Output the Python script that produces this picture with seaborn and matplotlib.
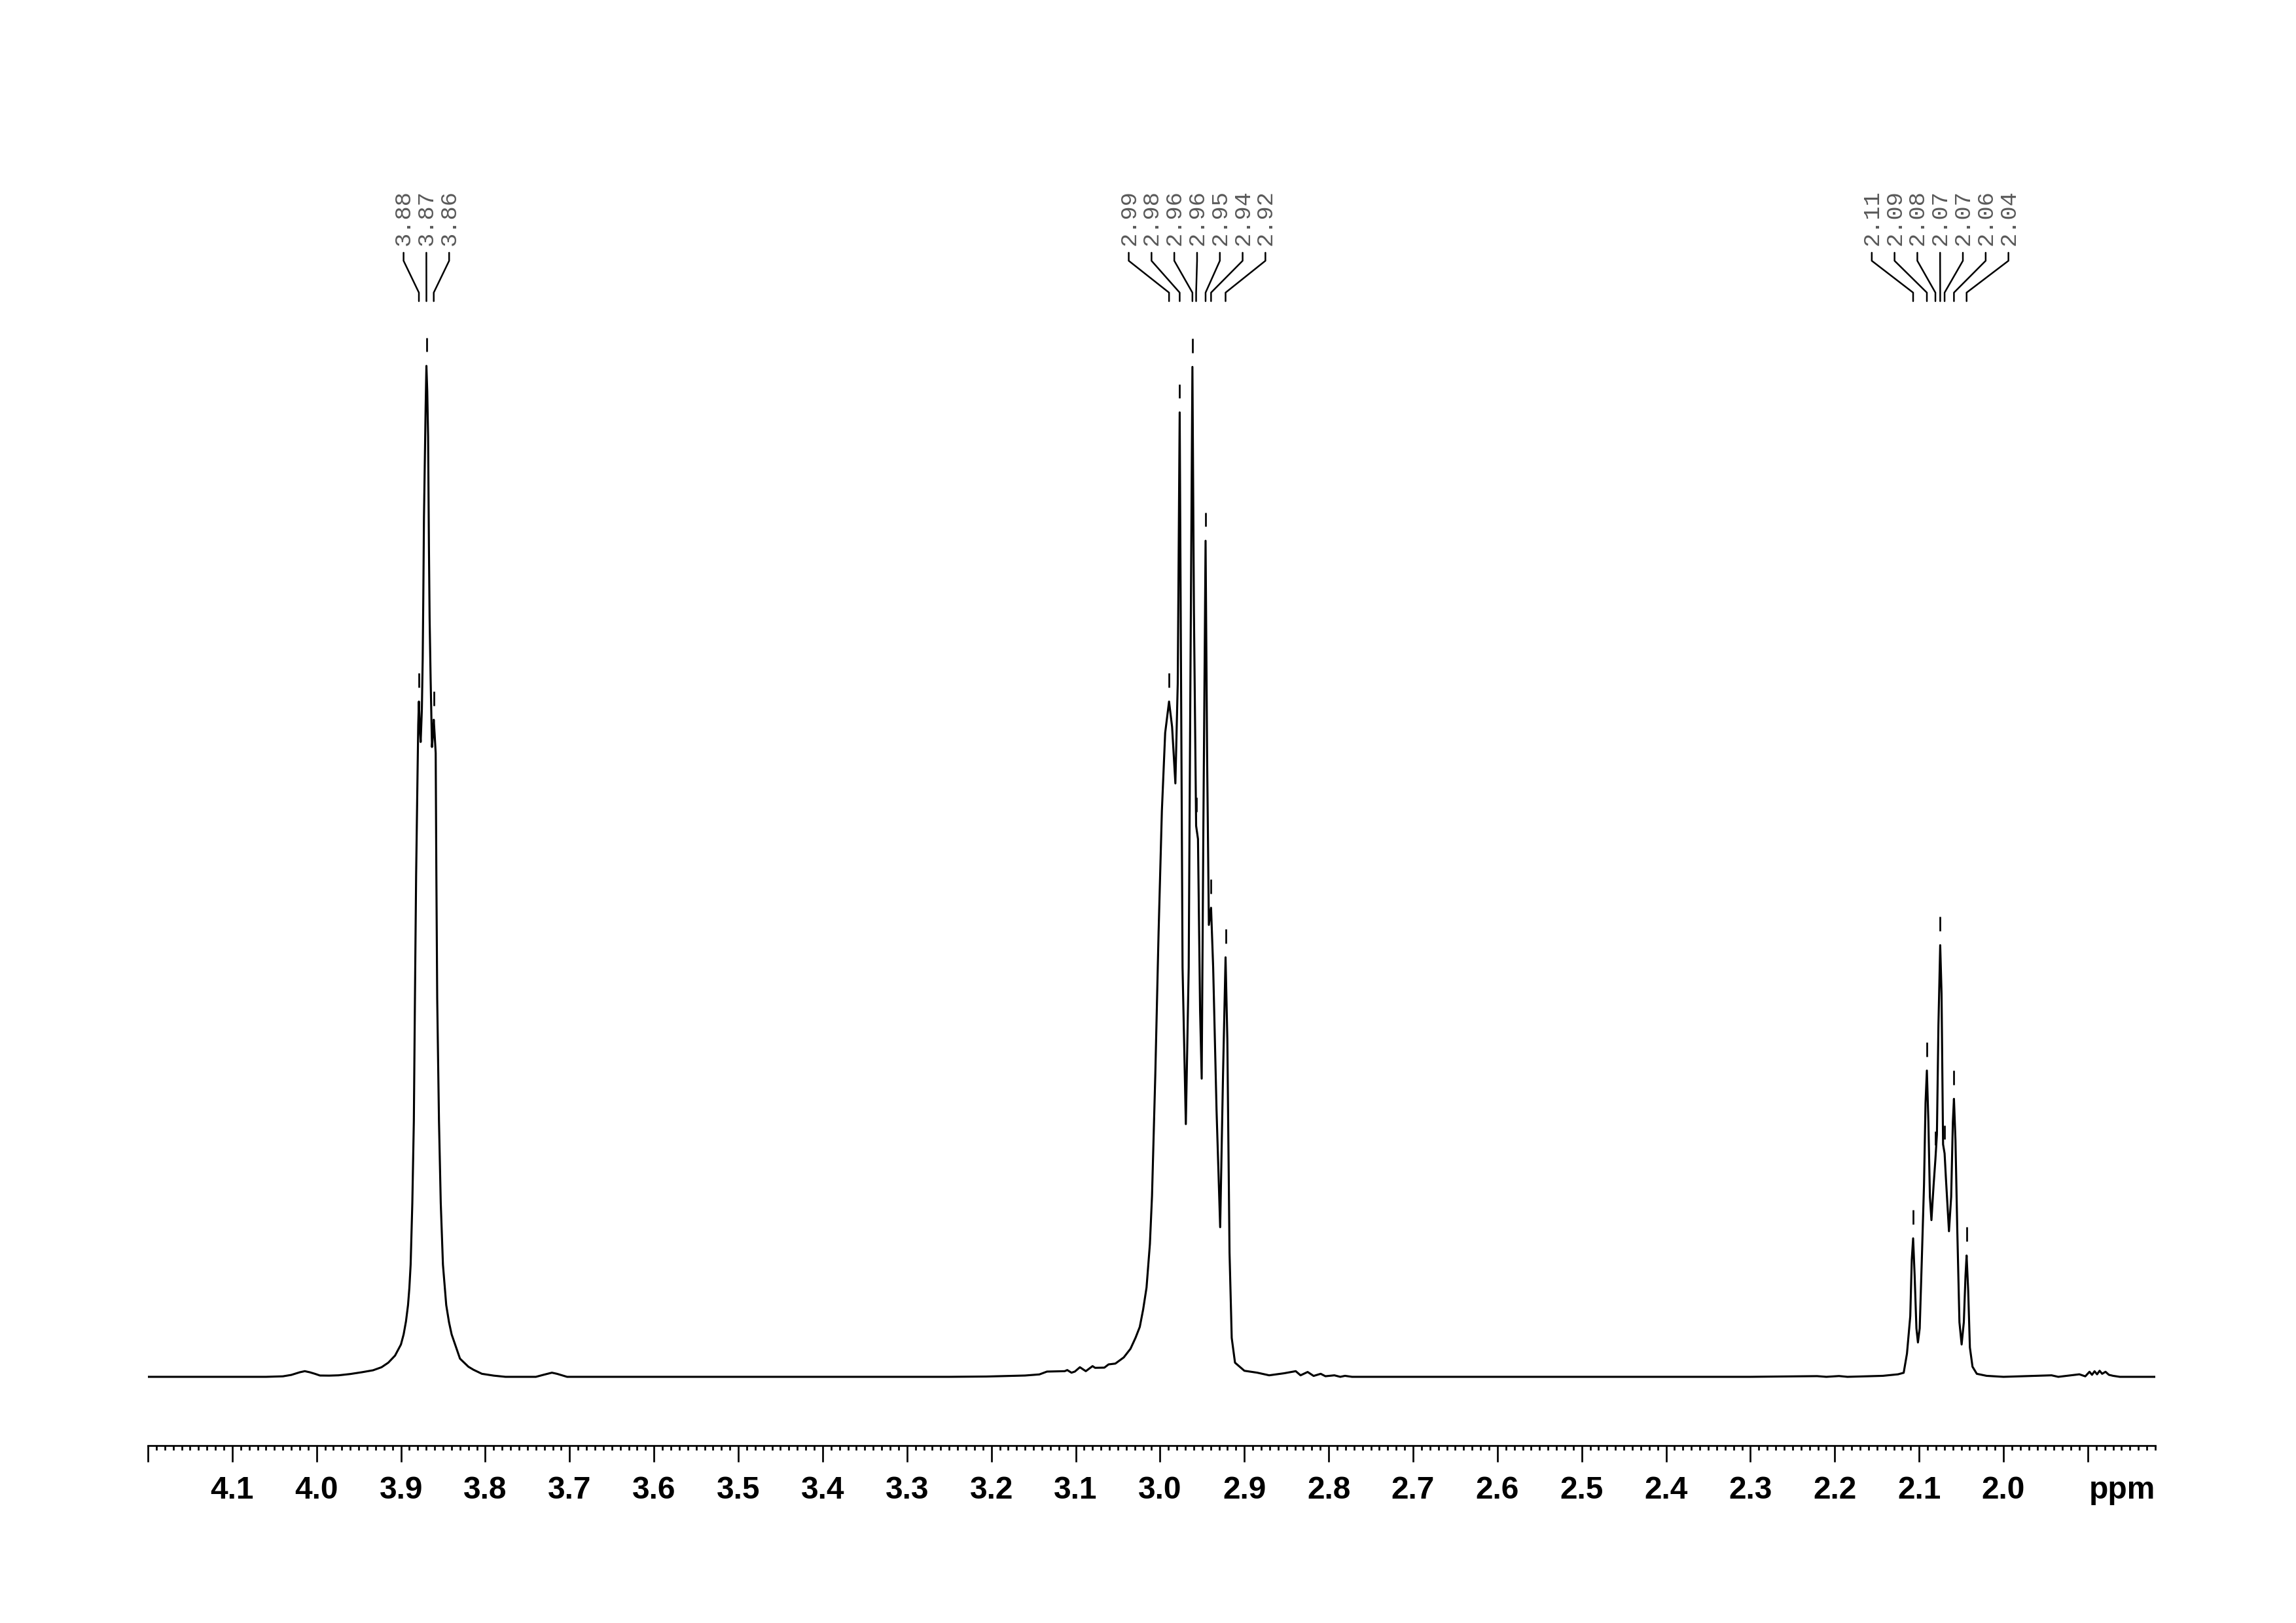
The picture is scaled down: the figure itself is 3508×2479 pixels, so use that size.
import numpy as np
import pandas as pd
import seaborn as sns
import matplotlib.pyplot as plt
from matplotlib.ticker import FixedLocator, MultipleLocator

# spectrum trace (ppm, relative intensity)
ppm_region1 = [4.200, 4.060, 4.040, 4.030, 4.020, 4.014, 4.008, 4.002, 3.996, 3.985,
               3.974, 3.960, 3.946, 3.933, 3.923, 3.915, 3.907, 3.900, 3.8968, 3.8940,
               3.8916, 3.8900, 3.8885, 3.8865, 3.8847, 3.8834, 3.8820, 3.8800, 3.8795, 3.8787,
               3.8778, 3.8766, 3.8752, 3.8742, 3.8735, 3.8727, 3.8716, 3.8707, 3.8698, 3.8688,
               3.8678, 3.8668, 3.8660, 3.8648, 3.8632, 3.8620, 3.8611, 3.8600, 3.8588, 3.8580,
               3.8570, 3.8549, 3.8528, 3.8502, 3.8463, 3.8430, 3.8399, 3.8300, 3.8200, 3.8140,
               3.8040, 3.7900, 3.7760, 3.7400, 3.7310, 3.7210, 3.7150, 3.7090, 3.7030]
int_region1 = [0.0, 0.0, 0.0005, 0.0019, 0.0045, 0.0056, 0.0045, 0.0030, 0.0013, 0.0012,
               0.0015, 0.0028, 0.0046, 0.0065, 0.0095, 0.014, 0.021, 0.032, 0.042, 0.055,
               0.071, 0.088, 0.111, 0.172, 0.253, 0.374, 0.496, 0.617, 0.645, 0.668,
               0.645, 0.628, 0.660, 0.710, 0.770, 0.850, 0.910, 0.960, 1.000, 0.975,
               0.930, 0.820, 0.750, 0.690, 0.623, 0.635, 0.650, 0.635, 0.617, 0.496,
               0.374, 0.253, 0.172, 0.111, 0.071, 0.054, 0.042, 0.018, 0.010, 0.007,
               0.003, 0.0012, 0.0, 0.0, 0.002, 0.0041, 0.003, 0.0015, 0.0]

ppm_region2 = [3.300, 3.250, 3.206, 3.160, 3.143, 3.134, 3.113, 3.110, 3.105, 3.101,
               3.095, 3.088, 3.080, 3.077, 3.066, 3.061, 3.053, 3.043, 3.035, 3.029,
               3.024, 3.020, 3.016, 3.014, 3.012, 3.0095, 3.0056, 3.0017, 2.9978, 2.9939,
               2.9893, 2.9857, 2.9818, 2.9790, 2.9767, 2.9750, 2.9733, 2.9694, 2.9660, 2.9640,
               2.9616, 2.9598, 2.9572, 2.9550, 2.9525, 2.9506, 2.9486, 2.9460, 2.9442, 2.9421,
               2.9395, 2.9370, 2.9330, 2.9287, 2.9253, 2.9223, 2.9202, 2.9176, 2.9150, 2.9111,
               2.9000, 2.8847, 2.8706, 2.8531, 2.8391, 2.8334, 2.8250, 2.8179, 2.8095, 2.8039,
               2.7933, 2.7863, 2.7807, 2.7723]
int_region2 = [0.0, 0.0, 0.0003, 0.0013, 0.0024, 0.0052, 0.0056, 0.0067, 0.0041, 0.0052,
               0.0095, 0.0056, 0.0106, 0.0089, 0.0091, 0.0123, 0.0131, 0.0192, 0.0278, 0.0387,
               0.0494, 0.0667, 0.0883, 0.110, 0.1315, 0.179, 0.299, 0.440, 0.560, 0.637,
               0.668, 0.643, 0.587, 0.686, 0.954, 0.686, 0.405, 0.250, 0.405, 0.686,
               0.999, 0.757, 0.545, 0.532, 0.362, 0.295, 0.545, 0.827, 0.616, 0.447,
               0.464, 0.405, 0.264, 0.148, 0.299, 0.415, 0.334, 0.123, 0.0385, 0.014,
               0.006, 0.0041, 0.0015, 0.0035, 0.0056, 0.0015, 0.0048, 0.0009, 0.003, 0.0006,
               0.0015, 0.0, 0.001, 0.0]

ppm_region3 = [2.300, 2.221, 2.210, 2.195, 2.185, 2.143, 2.125, 2.1183, 2.1144, 2.1105,
               2.1087, 2.1071, 2.1053, 2.1032, 2.1014, 2.0993, 2.0968, 2.0942, 2.0924, 2.0908,
               2.0890, 2.0872, 2.0854, 2.0828, 2.0807, 2.0789, 2.0771, 2.0750, 2.0734, 2.0716,
               2.0698, 2.0682, 2.0646, 2.0620, 2.0600, 2.0587, 2.0569, 2.0548, 2.0522, 2.0496,
               2.0470, 2.0450, 2.0437, 2.0418, 2.0398, 2.0367, 2.0316, 2.0200, 2.0000, 1.943,
               1.935, 1.910, 1.903, 1.898, 1.895, 1.892, 1.889, 1.886, 1.883, 1.879,
               1.875, 1.870, 1.862, 1.819]
int_region3 = [0.0, 0.0007, 0.0, 0.0008, 0.0, 0.001, 0.0025, 0.004, 0.023, 0.060,
               0.116, 0.137, 0.100, 0.048, 0.034, 0.048, 0.116, 0.190, 0.271, 0.303,
               0.252, 0.178, 0.155, 0.190, 0.215, 0.240, 0.348, 0.427, 0.379, 0.230,
               0.221, 0.196, 0.144, 0.178, 0.252, 0.275, 0.234, 0.147, 0.054, 0.032,
               0.054, 0.100, 0.120, 0.085, 0.029, 0.010, 0.003, 0.001, 0.0, 0.0015,
               0.0, 0.0025, 0.0005, 0.005, 0.002, 0.0055, 0.0025, 0.006, 0.003, 0.005,
               0.002, 0.001, 0.0, 0.0]

# picked peaks
peak_ppm = [3.8787, 3.8698, 3.8611,
            2.9893, 2.9767, 2.9616, 2.9572, 2.9460, 2.9395, 2.9223,
            2.1071, 2.0908, 2.0807, 2.0750, 2.0698, 2.0587, 2.0437]
peak_height = [0.668, 1.000, 0.650,
               0.668, 0.954, 0.999, 0.545, 0.827, 0.464, 0.415,
               0.137, 0.303, 0.215, 0.427, 0.221, 0.275, 0.120]
peak_label = ['3.88', '3.87', '3.86',
              '2.99', '2.98', '2.96', '2.96', '2.95', '2.94', '2.92',
              '2.11', '2.09', '2.08', '2.07', '2.07', '2.06', '2.04']
peak_group = [0, 0, 0, 1, 1, 1, 1, 1, 1, 1, 2, 2, 2, 2, 2, 2, 2]

tick_values = [4.2, 4.1, 4.0, 3.9, 3.8, 3.7, 3.6, 3.5, 3.4, 3.3, 3.2, 3.1,
               3.0, 2.9, 2.8, 2.7, 2.6, 2.5, 2.4, 2.3, 2.2, 2.1, 2.0, 1.9]
tick_labels = ['', '4.1', '4.0', '3.9', '3.8', '3.7', '3.6', '3.5', '3.4', '3.3', '3.2', '3.1',
               '3.0', '2.9', '2.8', '2.7', '2.6', '2.5', '2.4', '2.3', '2.2', '2.1', '2.0', '']

spec = pd.DataFrame({
    'ppm': ppm_region1 + ppm_region2 + ppm_region3,
    'intensity': int_region1 + int_region2 + int_region3,
})

sns.set_style('white')
plt.rcParams['font.family'] = ['Liberation Sans', 'DejaVu Sans']

fig = plt.figure(figsize=(3508 / 300, 2479 / 300), dpi=300)
ax = fig.add_axes([0.06442, 0.10932, 0.87429, 0.7979])

sns.lineplot(data=spec, x='ppm', y='intensity', ax=ax, sort=False, estimator=None,
             color='black', linewidth=0.75)

ax.set_xlim(4.2, 1.82)
ax.set_ylim(-0.068, 1.213)
ax.set_xlabel('')
ax.set_ylabel('')
ax.set_yticks([])
for side in ['left', 'top', 'right']:
    ax.spines[side].set_visible(False)
ax.spines['bottom'].set_linewidth(0.65)
ax.spines['bottom'].set_color('black')

ax.xaxis.set_major_locator(FixedLocator(tick_values))
ax.set_xticklabels(tick_labels)
ax.xaxis.set_minor_locator(MultipleLocator(0.01))
ax.tick_params(axis='x', which='major', direction='out', length=6, width=0.65,
               color='black', pad=5, labelsize=11.5, labelcolor='black', bottom=True)
ax.tick_params(axis='x', which='minor', direction='out', length=1.7, width=0.65,
               color='black', bottom=True)
for lab in ax.get_xticklabels():
    lab.set_fontweight('bold')

ax.annotate('ppm', xy=(1, 0), xycoords='axes fraction', xytext=(0, -11),
            textcoords='offset points', ha='right', va='top',
            fontsize=11.5, fontweight='bold', color='black')

# peak-pick markers
hts = np.array(peak_height)
ax.vlines(peak_ppm, hts + 0.014, hts + 0.028, color='black', linewidth=0.65)

# labels with leader lines
spacing_px = 34.8
to_disp = ax.transData
to_data = ax.transData.inverted()
peak_px = np.array([to_disp.transform((p, 0))[0] for p in peak_ppm])
groups = np.array(peak_group)
for g in np.unique(groups):
    idx = np.where(groups == g)[0]
    center = peak_px[idx].mean()
    n = len(idx)
    for k, i in enumerate(idx):
        lx_px = center + (k - (n - 1) / 2) * spacing_px
        lx = to_data.transform((lx_px, 0))[0]
        px = peak_ppm[i]
        ax.plot([lx, lx, px, px], [1.112, 1.104, 1.0725, 1.064], color='black',
                linewidth=0.6, clip_on=False)
        ax.text(lx, 1.119, peak_label[i], rotation=90, ha='center', va='bottom',
                family=['Liberation Mono', 'DejaVu Sans Mono'], fontsize=8.5,
                color='0.35', clip_on=False)

fig.savefig('out.png', dpi=300)
